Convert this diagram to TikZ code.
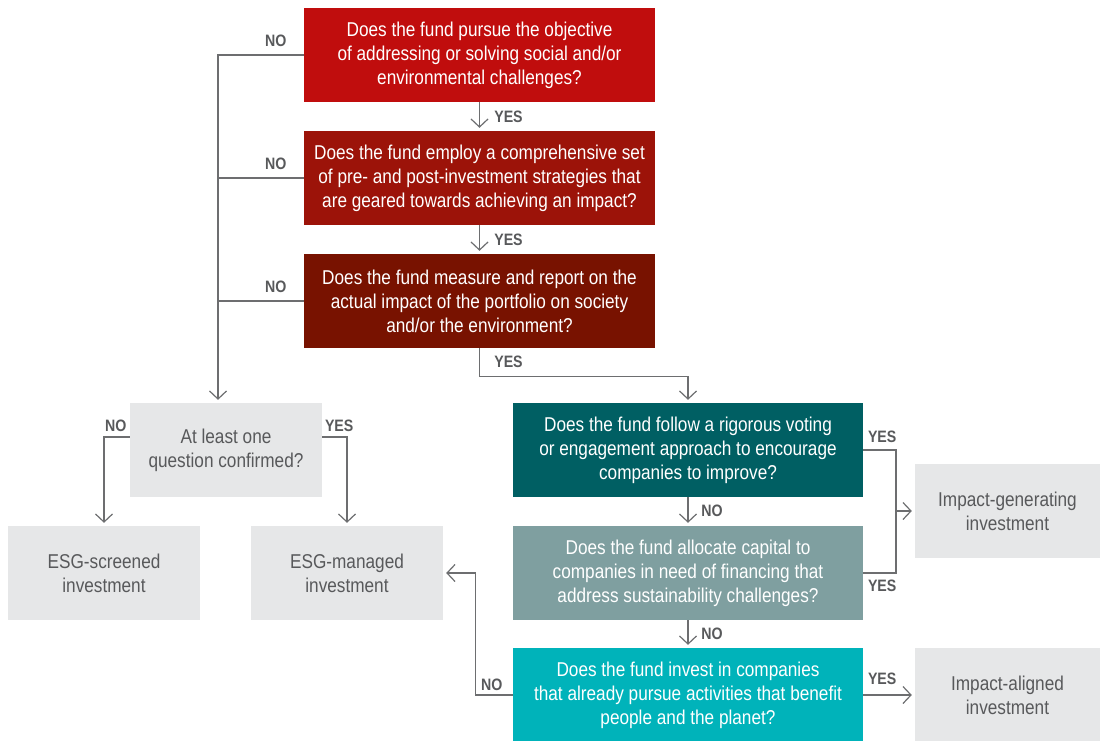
\documentclass[tikz,border=0pt]{standalone}
\usepackage{fontspec}
\setmainfont{Liberation Sans}[FakeStretch=0.86]
\usetikzlibrary{arrows.meta,calc}
\definecolor{cq1}{HTML}{C00D0D}
\definecolor{cq2}{HTML}{9C1309}
\definecolor{cq3}{HTML}{781200}
\definecolor{ct1}{HTML}{005F63}
\definecolor{ct2}{HTML}{7F9FA0}
\definecolor{ct3}{HTML}{00B3BA}
\definecolor{cgray}{HTML}{E6E7E8}
\definecolor{ctext}{HTML}{58595B}
\definecolor{cline}{HTML}{6D6E70}
\tikzset{
  qbox/.style={rectangle, inner sep=0pt, minimum width=351pt, minimum height=94pt,
    align=center, text=white, font=\fontsize{20}{24}\selectfont},
  gbox/.style={rectangle, fill=cgray, inner sep=0pt, minimum width=192pt, minimum height=94pt,
    align=center, text=ctext, font=\fontsize{20}{24}\selectfont},
  lab/.style={inner sep=0pt, text=ctext, font=\fontsize{16.5}{18}\selectfont\bfseries},
  conn/.style={draw=cline, line width=1.2pt},
  arr/.style={conn, -{Straight Barb[length=8pt,width=17pt,line width=1.2pt]}, shorten >=3pt},
}
\begin{document}
\begin{tikzpicture}[x=1pt,y=-1pt]
\useasboundingbox (0,0) rectangle (1100,740);
\fill[white] (0,0) rectangle (1100,740);
% question boxes
\node[qbox, fill=cq1] (q1) at (479.5,55) {Does the fund pursue the objective\\of addressing or solving social and/or\\environmental challenges?};
\node[qbox, fill=cq2] (q2) at (479.5,178) {Does the fund employ a comprehensive set\\of pre- and post-investment strategies that\\are geared towards achieving an impact?};
\node[qbox, fill=cq3] (q3) at (479.5,301) {Does the fund measure and report on the\\actual impact of the portfolio on society\\and/or the environment?};
\node[gbox] (al) at (226,450) {At least one\\question confirmed?};
\node[gbox] (es) at (104,573) {ESG-screened\\investment};
\node[gbox] (em) at (347,573) {ESG-managed\\investment};
\node[qbox, minimum width=350pt, fill=ct1] (t1) at (688,450) {Does the fund follow a rigorous voting\\or engagement approach to encourage\\companies to improve?};
\node[qbox, minimum width=350pt, fill=ct2] (t2) at (688,573) {Does the fund allocate capital to\\companies in need of financing that\\address sustainability challenges?};
\node[qbox, minimum width=350pt, fill=ct3] (t3) at (688,695) {Does the fund invest in companies\\that already pursue activities that benefit\\people and the planet?};
\node[gbox, minimum width=185pt] (ig) at (1007.5,511) {Impact-generating\\investment};
\node[gbox, minimum width=185pt] (ia) at (1007.5,695) {Impact-aligned\\investment};
% connectors
\coordinate (nx) at (218,0);
\draw[arr] (q1.west) -| (nx |- al.north);
\draw[conn] (q2.west) -- (q2.west -| nx);
\draw[conn] (q3.west) -- (q3.west -| nx);
\draw[arr] (q1.south) -- (q2.north);
\draw[arr] (q2.south) -- (q3.north);
\draw[arr] (q3.south) -- ++(0,28) -| (t1.north);
\draw[arr] ($(al.west)+(0,-13)$) -| (es.north);
\draw[arr] ($(al.east)+(0,-13)$) -| (em.north);
\draw[arr] (t1.south) -- (t2.north);
\draw[arr] (t2.south) -- (t3.north);
\coordinate (jy) at (896,511);
\draw[conn] (t1.east) -| (jy) |- (t2.east);
\draw[arr] (jy) -- (ig.west);
\draw[arr] (t3.east) -- (ia.west);
\draw[arr] (t3.west) -- ++(-37,0) |- (em.east);
% labels
\node[lab] (n1) at ($(q1.west)+(-28,-14)$) {NO};
\node[lab] (n2) at ($(q2.west)+(-28,-14)$) {NO};
\node[lab] (n3) at ($(q3.west)+(-28,-14)$) {NO};
\node[lab] (y1) at ($(q1.south)+(29,15)$) {YES};
\node[lab] (y2) at ($(q2.south)+(29,15)$) {YES};
\node[lab] (y3) at ($(q3.south)+(29,14)$) {YES};
\node[lab] (n4) at ($(al.west)+(-14,-24)$) {NO};
\node[lab] (y4) at ($(al.east)+(17,-24)$) {YES};
\node[lab] (n5) at ($(t1.south)+(24,14)$) {NO};
\node[lab] (n6) at ($(t2.south)+(24,14)$) {NO};
\node[lab] (y5) at ($(t1.east)+(19,-13)$) {YES};
\node[lab] (y6) at ($(t2.east)+(19,13)$) {YES};
\node[lab] (y7) at ($(t3.east)+(19,-16)$) {YES};
\node[lab] (n7) at ($(t3.west)+(-21,-10)$) {NO};
\end{tikzpicture}
\end{document}
